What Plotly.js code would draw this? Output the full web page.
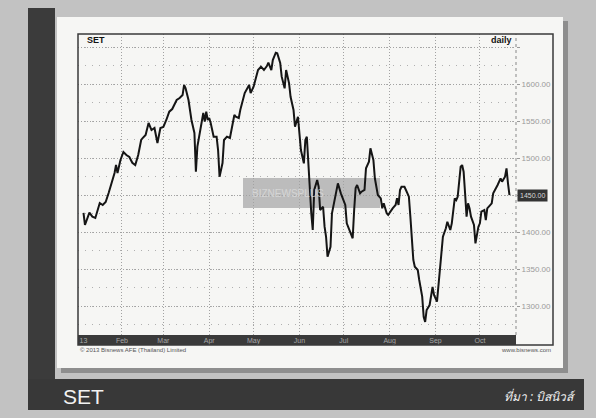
<!DOCTYPE html>
<html><head><meta charset="utf-8">
<script src="https://cdn.plot.ly/plotly-3.0.1.min.js"></script>
<style>html,body{margin:0;padding:0;background:#c0c0c0;} #chart{width:596px;height:418px;}</style>
</head><body><div id="chart"></div>
<script>
// SET index, daily closes
const dates = [
'2013-01-06','2013-01-07','2013-01-10','2013-01-12','2013-01-14','2013-01-17','2013-01-19','2013-01-21','2013-01-23','2013-01-25','2013-01-27','2013-01-28','2013-01-29','2013-01-31',
'2013-02-02','2013-02-04','2013-02-06','2013-02-08','2013-02-10','2013-02-12','2013-02-14','2013-02-15','2013-02-17','2013-02-19','2013-02-21','2013-02-23','2013-02-24','2013-02-25','2013-02-27',
'2013-03-01','2013-03-03','2013-03-05','2013-03-07','2013-03-10','2013-03-12','2013-03-14','2013-03-15','2013-03-16','2013-03-18','2013-03-20','2013-03-22','2013-03-23','2013-03-24','2013-03-26','2013-03-28','2013-03-29','2013-03-30','2013-03-31',
'2013-04-01','2013-04-02','2013-04-04','2013-04-06','2013-04-07','2013-04-08','2013-04-10','2013-04-11','2013-04-13','2013-04-15','2013-04-16','2013-04-18','2013-04-19','2013-04-21','2013-04-22','2013-04-24','2013-04-25','2013-04-28','2013-04-29',
'2013-05-01','2013-05-03','2013-05-04','2013-05-06','2013-05-08','2013-05-10','2013-05-11','2013-05-13','2013-05-14','2013-05-16','2013-05-17','2013-05-19','2013-05-20','2013-05-22','2013-05-23','2013-05-25','2013-05-26','2013-05-28','2013-05-29','2013-05-31',
'2013-06-01','2013-06-02','2013-06-04','2013-06-05','2013-06-06','2013-06-07','2013-06-08','2013-06-09','2013-06-10','2013-06-11','2013-06-13','2013-06-14','2013-06-15','2013-06-17','2013-06-18','2013-06-19','2013-06-20','2013-06-22','2013-06-23','2013-06-25','2013-06-27','2013-06-29',
'2013-07-01','2013-07-02','2013-07-03','2013-07-05','2013-07-07','2013-07-08','2013-07-09','2013-07-10','2013-07-12','2013-07-13','2013-07-15','2013-07-16','2013-07-17','2013-07-18','2013-07-19','2013-07-20','2013-07-21','2013-07-22','2013-07-23','2013-07-24','2013-07-26','2013-07-27','2013-07-28','2013-07-30','2013-07-31',
'2013-08-02','2013-08-03','2013-08-05','2013-08-06','2013-08-07','2013-08-08','2013-08-09','2013-08-11','2013-08-12','2013-08-14','2013-08-15','2013-08-16','2013-08-17','2013-08-18','2013-08-20','2013-08-21','2013-08-23','2013-08-24','2013-08-25','2013-08-26','2013-08-28','2013-08-30','2013-08-31',
'2013-09-02','2013-09-03','2013-09-05','2013-09-06','2013-09-08','2013-09-09','2013-09-11','2013-09-12','2013-09-14','2013-09-15','2013-09-16','2013-09-18','2013-09-19','2013-09-20','2013-09-21','2013-09-22','2013-09-23','2013-09-24','2013-09-25','2013-09-27','2013-09-28','2013-09-30',
'2013-10-01','2013-10-02','2013-10-04','2013-10-05','2013-10-06','2013-10-08','2013-10-09','2013-10-10','2013-10-12','2013-10-13','2013-10-15','2013-10-16','2013-10-18','2013-10-19','2013-10-20','2013-10-21'
];
const values = [
1425.7,1409.5,1426.1,1420.7,1419.0,1439.2,1436.5,1440.5,1452.7,1466.2,1479.7,1490.5,1479.7,1497.3,
1508.1,1504.1,1501.3,1493.6,1490.5,1504.1,1524.3,1527.0,1531.1,1547.3,1537.8,1540.5,1531.1,1520.3,1540.5,
1541.9,1551.4,1562.6,1566.2,1578.4,1581.1,1585.1,1598.6,1594.6,1578.4,1551.4,1533.8,1481.5,1515.3,1537.8,1560.8,1549.1,1562.6,1551.4,
1554.1,1547.3,1528.8,1528.8,1510.8,1474.7,1493.2,1524.3,1528.8,1527.0,1537.8,1558.1,1555.8,1554.1,1564.9,1581.1,1587.8,1598.6,1587.8,
1596.4,1609.9,1618.9,1623.4,1618.9,1624.3,1628.8,1618.9,1632.4,1642.3,1641.5,1628.4,1609.9,1594.2,1618.9,1600.9,1582.8,1564.9,1542.3,1555.8,
1528.8,1510.8,1492.8,1524.3,1528.8,1492.8,1452.3,1425.3,1402.7,1456.8,1470.3,1461.2,1429.7,1434.2,1407.2,1393.6,1366.6,1380.1,1425.3,1447.7,1465.8,1452.3,
1443.2,1436.5,1411.7,1401.3,1391.5,1429.7,1459.5,1463.5,1452.3,1454.5,1456.8,1486.1,1490.5,1495.0,1513.1,1506.3,1497.3,1472.6,1459.0,1450.0,1445.5,1432.0,1438.8,1425.3,1423.0,
1429.7,1432.0,1436.5,1445.5,1436.5,1456.8,1461.2,1461.2,1456.8,1447.7,1420.7,1393.6,1362.2,1353.1,1348.6,1335.1,1312.6,1285.5,1278.4,1294.6,1301.3,1325.7,1314.9,
1305.8,1328.4,1368.9,1393.6,1405.0,1413.9,1402.7,1411.7,1445.5,1443.2,1447.7,1488.2,1490.5,1481.5,1452.3,1420.7,1438.8,1432.0,1420.7,1409.5,1384.7,1407.2,
1411.7,1427.4,1429.7,1416.2,1432.0,1436.5,1438.8,1452.3,1459.0,1463.5,1472.6,1468.0,1474.7,1486.1,1465.8,1450.0
];
const monthTicks = ['2013-01-06','2013-02-01','2013-03-01','2013-04-01','2013-05-01','2013-06-01','2013-07-01','2013-08-01','2013-09-01','2013-10-01'];
const monthLabels = ['13','Feb','Mar','Apr','May','Jun','Jul','Aug','Sep','Oct'];
const priceTicks = [1300,1350,1400,1450,1500,1550,1600,1650];
const priceLabels = ['1300.00','1350.00','1400.00','','1500.00','1550.00','1600.00',''];

const lastVal = values[values.length-1];
// pixel -> paper helpers for decoration (plot area: x 78..516, y 34..335)
const PX = p => (p-78)/438, PY = p => (335-p)/301;
const rect = (x0,y0,x1,y1,fill,extra) => Object.assign({type:'rect',xref:'paper',yref:'paper',x0:PX(x0),x1:PX(x1),y0:PY(y1),y1:PY(y0),fillcolor:fill,line:{width:0},layer:'below'},extra||{});

const trace = {x:dates,y:values,type:'scatter',mode:'lines',line:{color:'#151515',width:2},hoverinfo:'skip'};

const layout = {
  width:596,height:418,autosize:false,
  margin:{l:78,r:80,t:34,b:83,pad:0},
  paper_bgcolor:'#c2c2c2',plot_bgcolor:'rgba(0,0,0,0)',
  showlegend:false,
  font:{family:'Liberation Sans, Arial, sans-serif'},
  xaxis:{type:'date',range:['2013-01-02 07:00','2013-10-25 10:00'],
    tickvals:monthTicks,ticktext:monthLabels,ticks:'',showgrid:false,zeroline:false,showline:false,
    tickfont:{size:7,color:'#a8a8a8'},
    minor:{tick0:'2013-01-01',dtick:'M1',showgrid:true,gridcolor:'#a2a2a2',griddash:'1px,2px',gridwidth:1,ticks:''},
    fixedrange:true},
  yaxis:{side:'right',range:[1260.8,1667.6],tickvals:priceTicks,ticktext:priceLabels,
    ticks:'outside',ticklen:3,tickcolor:'#999',tickfont:{size:8,color:'#9a9a9a'},
    showgrid:true,gridcolor:'#a2a2a2',griddash:'1px,2px',gridwidth:1,zeroline:false,showline:false,
    minor:{dtick:25,showgrid:true,gridcolor:'#b0b0b0',griddash:'1px,6px',gridwidth:1,ticks:''},
    fixedrange:true},
  shapes:[
    rect(28,8,55,410,'#3b3b3b'),
    rect(28,379,584,410,'#383838'),
    rect(61,21,568,373,'#8e8e8e'),
    rect(57,17,563,368,'#f6f6f4'),
    rect(78,335,516,345,'#3a3a3a'),
    rect(243,178,380,208,'rgba(150,150,150,0.6)'),
    {type:'rect',xref:'paper',yref:'paper',x0:PX(78),x1:PX(553),y0:PY(345),y1:PY(34),line:{color:'#3a3a3a',width:1.5},fillcolor:'rgba(0,0,0,0)',layer:'above'},
    {type:'line',xref:'paper',yref:'paper',x0:1,x1:1,y0:0,y1:1,line:{color:'#888',width:1,dash:'dot'},layer:'below'}
  ],
  annotations:[
    {xref:'paper',yref:'paper',x:PX(85),y:PY(40),xanchor:'left',yanchor:'middle',showarrow:false,text:'<b>SET</b>',font:{size:9,color:'#111'}},
    {xref:'paper',yref:'paper',x:PX(514),y:PY(40),xanchor:'right',yanchor:'middle',showarrow:false,text:'<b>daily</b>',font:{size:9,color:'#111'}},
    {xref:'paper',yref:'paper',x:PX(250),y:PY(193),xanchor:'left',yanchor:'middle',showarrow:false,text:'BIZNEWSPLUS',font:{size:10,color:'rgba(225,225,225,0.7)'}},
    {xref:'paper',yref:'y',x:1.002,y:lastVal,xanchor:'left',yanchor:'middle',showarrow:false,text:lastVal.toFixed(2),font:{size:7,color:'#d8d8d8'},bgcolor:'#333',borderpad:2},
    {xref:'paper',yref:'paper',x:PX(78),y:PY(350),xanchor:'left',yanchor:'middle',showarrow:false,text:'© 2013 Bisnews AFE (Thailand) Limited',font:{size:6,color:'#555'}},
    {xref:'paper',yref:'paper',x:PX(553),y:PY(350),xanchor:'right',yanchor:'middle',showarrow:false,text:'www.bisnews.com',font:{size:6,color:'#555'}},
    {xref:'paper',yref:'paper',x:PX(61),y:PY(396),xanchor:'left',yanchor:'middle',showarrow:false,text:'SET',font:{size:21,color:'#f2f2f2'}},
    {xref:'paper',yref:'paper',x:PX(578),y:PY(396),xanchor:'right',yanchor:'middle',showarrow:false,text:'<i>ที่มา : บิสนิวส์</i>',font:{size:12,color:'#f2f2f2',family:'Noto Sans, DejaVu Sans, sans-serif'}}
  ]
};
Plotly.newPlot('chart',[trace],layout,{displayModeBar:false,staticPlot:true});
</script>
</body></html>
